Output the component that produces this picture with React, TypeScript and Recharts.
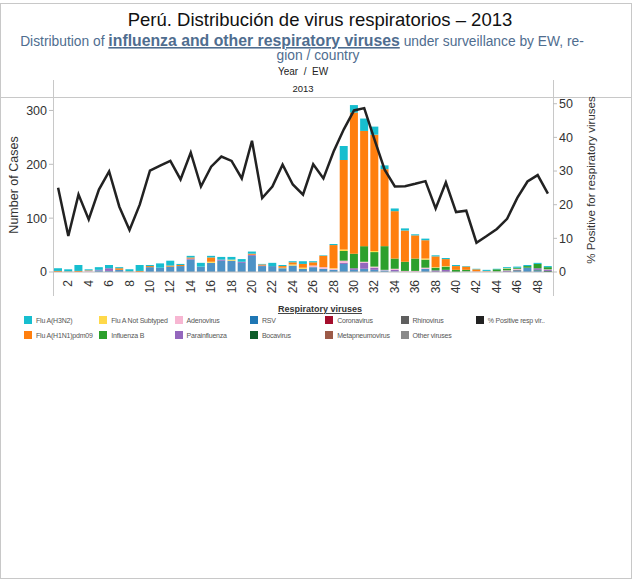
import React from 'react';
import { ComposedChart, Bar, Line, XAxis, YAxis } from 'recharts';

const weeks = [
  1, 2, 3, 4, 5, 6, 7, 8, 9, 10, 11, 12, 13, 14, 15, 16, 17, 18, 19, 20, 21, 22, 23, 24, 25,
  26, 27, 28, 29, 30, 31, 32, 33, 34, 35, 36, 37, 38, 39, 40, 41, 42, 43, 44, 45, 46, 47, 48, 49,
];
const evenWeekTicks = [2, 4, 6, 8, 10, 12, 14, 16, 18, 20, 22, 24, 26, 28, 30, 32, 34, 36, 38, 40, 42, 44, 46, 48];

const rsv = [0, 0, 0, 0, 3, 2, 4, 0, 0, 9, 8, 10, 11, 23, 10, 17, 21, 21, 17, 30, 11, 11, 7, 12, 6, 9, 6, 4, 15, 4, 6, 4, 3, 1, 0, 0, 6, 0, 0, 0, 0, 0, 0, 0, 0, 2, 8, 3, 0];
const parainfluenza = [0, 0, 0, 0, 1, 5, 0, 0, 0, 0, 0, 0, 0, 2, 0, 0, 2, 0, 2, 2, 1, 0, 0, 0, 0, 0, 0, 0, 2, 3, 11, 4, 0, 3, 0, 0, 0, 3, 4, 0, 0, 0, 0, 0, 2, 1, 0, 3, 2];
const adenovirus = [0, 0, 0, 2, 0, 0, 0, 0, 0, 0, 0, 0, 0, 0, 0, 0, 0, 0, 0, 0, 0, 0, 0, 0, 0, 3, 3, 2, 4, 0, 2, 2, 1, 2, 2, 2, 2, 0, 0, 0, 1, 1, 1, 1, 1, 2, 0, 0, 1];
const influenzaB = [0, 0, 0, 0, 0, 0, 0, 0, 0, 0, 0, 0, 0, 0, 0, 0, 0, 0, 0, 0, 0, 0, 0, 0, 0, 0, 0, 0, 18, 27, 29, 27, 44, 19, 17, 23, 15, 5, 6, 4, 3, 0, 0, 4, 3, 2, 3, 8, 4];
const fluANotSubtyped = [0, 0, 0, 0, 0, 0, 0, 0, 0, 0, 0, 0, 0, 0, 0, 2, 0, 2, 0, 0, 0, 0, 1, 2, 2, 0, 0, 1, 3, 0, 0, 2, 0, 0, 0, 0, 2, 1, 1, 0, 0, 0, 0, 0, 1, 0, 0, 0, 0];
const fluAH1N1 = [2, 1, 2, 1, 0, 0, 3, 1, 2, 2, 0, 2, 2, 2, 0, 8, 0, 0, 0, 2, 2, 0, 3, 4, 7, 6, 21, 43, 166, 262, 214, 216, 143, 88, 58, 43, 34, 20, 13, 7, 6, 4, 1, 0, 0, 0, 0, 0, 0];
const fluAH3N2 = [5, 4, 11, 2, 5, 6, 2, 4, 11, 2, 8, 9, 2, 3, 7, 3, 5, 5, 5, 4, 1, 6, 2, 2, 5, 2, 1, 2, 26, 14, 23, 15, 7, 5, 4, 2, 3, 2, 2, 2, 1, 1, 2, 1, 2, 2, 2, 2, 2];
const bocavirus = [0, 0, 0, 0, 0, 0, 0, 0, 0, 0, 0, 0, 0, 0, 0, 0, 0, 0, 0, 0, 0, 0, 0, 0, 0, 0, 0, 0, 0, 0, 0, 0, 0, 0, 0, 0, 0, 0, 0, 0, 0, 0, 0, 0, 0, 1, 0, 1, 2];
const coronavirus = [0, 0, 0, 0, 0, 0, 0, 0, 0, 0, 0, 0, 0, 0, 0, 0, 0, 0, 0, 0, 0, 0, 0, 0, 0, 0, 0, 0, 0, 0, 0, 0, 0, 0, 0, 0, 0, 0, 0, 0, 0, 0, 0, 0, 0, 0, 0, 0, 0];
const metapneumovirus = [0, 0, 0, 0, 0, 0, 0, 0, 0, 0, 0, 0, 0, 0, 0, 0, 0, 0, 0, 0, 0, 0, 0, 0, 0, 0, 0, 0, 0, 0, 0, 0, 0, 0, 0, 0, 0, 0, 0, 0, 0, 0, 0, 0, 0, 0, 0, 0, 0];
const rhinovirus = [0, 0, 0, 0, 0, 0, 0, 0, 0, 0, 0, 0, 0, 0, 0, 0, 0, 0, 0, 0, 0, 0, 0, 0, 0, 0, 0, 0, 0, 0, 0, 0, 0, 0, 0, 0, 0, 0, 0, 0, 0, 0, 0, 0, 0, 0, 0, 0, 0];
const otherViruses = [0, 0, 0, 0, 0, 0, 0, 0, 0, 0, 0, 0, 0, 0, 0, 0, 0, 0, 0, 0, 0, 0, 0, 0, 0, 0, 0, 0, 0, 0, 0, 0, 0, 0, 0, 0, 0, 0, 0, 0, 0, 0, 0, 0, 0, 0, 0, 0, 0];
const pctPositive = [
  25, 10.7, 23, 15.6, 24.5, 29.9, 19.4, 12.5, 20, 30.1, 31.6, 33, 27.5, 35.5, 25.4, 31.3, 34.3, 33, 27.8, 39,
  22, 25.4, 31.9, 26, 23, 32, 27.8, 35.8, 42.4, 48, 48.7, 39.4, 30.4, 25.4, 25.5, 26.2, 27, 18.9, 26.6, 17.8,
  18.2, 8.7, 10.7, 12.8, 15.8, 22, 26.9, 28.8, 23.3,
];

const casesTicks = [0, 100, 200, 300];
const pctTicks = [0, 10, 20, 30, 40, 50];

// stacking order, bottom to top
const series = [
  { key: 'rsv', name: 'RSV', values: rsv, color: '#4e92c6' },
  { key: 'bocavirus', name: 'Bocavirus', values: bocavirus, color: '#0e5e2a' },
  { key: 'coronavirus', name: 'Coronavirus', values: coronavirus, color: '#a50f2d' },
  { key: 'metapneumovirus', name: 'Metapneumovirus', values: metapneumovirus, color: '#9c5a48' },
  { key: 'rhinovirus', name: 'Rhinovirus', values: rhinovirus, color: '#5f5f5f' },
  { key: 'otherViruses', name: 'Other viruses', values: otherViruses, color: '#8a8a8a' },
  { key: 'parainfluenza', name: 'Parainfluenza', values: parainfluenza, color: '#9467bd' },
  { key: 'adenovirus', name: 'Adenovirus', values: adenovirus, color: '#f7b6d2' },
  { key: 'influenzaB', name: 'Influenza B', values: influenzaB, color: '#2ca02c' },
  { key: 'fluANotSubtyped', name: 'Flu A Not Subtyped', values: fluANotSubtyped, color: '#ffd94a' },
  { key: 'fluAH1N1', name: 'Flu A(H1N1)pdm09', values: fluAH1N1, color: '#ff7f0e' },
  { key: 'fluAH3N2', name: 'Flu A(H3N2)', values: fluAH3N2, color: '#17becf' },
];

const legendRows = [
  [
    ['Flu A(H3N2)', '#17becf'],
    ['Flu A Not Subtyped', '#ffd94a'],
    ['Adenovirus', '#f7b6d2'],
    ['RSV', '#1f77b4'],
    ['Coronavirus', '#a50f2d'],
    ['Rhinovirus', '#5f5f5f'],
    ['% Positive resp vir..', '#222222'],
  ],
  [
    ['Flu A(H1N1)pdm09', '#ff7f0e'],
    ['Influenza B', '#2ca02c'],
    ['Parainfluenza', '#9467bd'],
    ['Bocavirus', '#0e5e2a'],
    ['Metapneumovirus', '#9c5a48'],
    ['Other viruses', '#8a8a8a'],
  ],
];

const data = weeks.map((week, i) => {
  const row: Record<string, number> = { week, pct: pctPositive[i] };
  series.forEach((s) => {
    row[s.key] = s.values[i];
  });
  return row;
});

const font = 'Arial, "Liberation Sans", sans-serif';

const WeekTick = (props: any) => {
  const { x, y, payload } = props;
  if (!evenWeekTicks.includes(payload.value)) return null;
  return (
    <text
      x={x}
      y={y}
      transform={`rotate(-90 ${x} ${y})`}
      textAnchor="end"
      dominantBaseline="central"
      fontSize={12}
      fontFamily={font}
      fill="#333"
    >
      {payload.value}
    </text>
  );
};

const App: React.FC = () => {
  return (
    <div style={{ position: 'absolute', left: 0, top: 0, width: 642, height: 584, background: '#fff', fontFamily: font }}>
      <svg width={642} height={584} style={{ position: 'absolute', left: 0, top: 0 }}>
        <rect x={0.5} y={3.5} width={631} height={575} fill="none" stroke="#c8c8c8" />
        <line x1={0} x2={632} y1={97.5} y2={97.5} stroke="#c8c8c8" />
        <line x1={53.5} x2={53.5} y1={80} y2={296} stroke="#c8c8c8" />
        <line x1={553.5} x2={553.5} y1={80} y2={296} stroke="#c8c8c8" />
        <text x={320} y={26} textAnchor="middle" fontSize={18.5} fill="#111">
          Perú. Distribución de virus respiratorios – 2013
        </text>
        <text x={302} y={46} textAnchor="middle" fontSize={13.8} fill="#4f6d8f">
          Distribution of{' '}
          <tspan fontWeight="bold" fontSize={15.8} textDecoration="underline">
            influenza and other respiratory viruses
          </tspan>{' '}
          under surveillance by EW, re-
        </text>
        <text x={318} y={60} textAnchor="middle" fontSize={13.8} fill="#4f6d8f">
          gion / country
        </text>
        <text x={303} y={75} textAnchor="middle" fontSize={10} fill="#222" style={{ whiteSpace: 'pre' }}>
          Year  /  EW
        </text>
        <text x={303} y={92} textAnchor="middle" fontSize={9.5} fill="#222">
          2013
        </text>
        <text x={18} y={185} transform="rotate(-90 18 185)" textAnchor="middle" fontSize={12.5} fill="#333">
          Number of Cases
        </text>
        <text x={595} y={180} transform="rotate(-90 595 180)" textAnchor="middle" fontSize={11.5} fill="#333">
          % Positive for respiratory viruses
        </text>
        <text x={320} y={312} textAnchor="middle" fontSize={9} fontWeight="bold" fill="#333" textDecoration="underline">
          Respiratory viruses
        </text>
      </svg>
      <div style={{ position: 'absolute', left: 0, top: 0 }}>
        <ComposedChart
          width={642}
          height={300}
          data={data}
          margin={{ top: 97, right: 0, left: 0, bottom: 0 }}
          barCategoryGap={1}
        >
          <XAxis
            dataKey="week"
            interval={0}
            tick={<WeekTick />}
            tickLine={false}
            axisLine={{ stroke: '#bdbdbd' }}
            height={28}
            tickMargin={2}
          />
          <YAxis
            yAxisId="cases"
            orientation="left"
            width={53}
            domain={[0, 325]}
            ticks={casesTicks}
            axisLine={false}
            tickSize={4}
            tickLine={{ stroke: '#bdbdbd' }}
            tick={{ fontSize: 12.5, fill: '#333', fontFamily: font }}
          />
          <YAxis
            yAxisId="pct"
            orientation="right"
            width={89}
            domain={[0, 52]}
            ticks={pctTicks}
            axisLine={false}
            tickSize={4}
            tickLine={{ stroke: '#bdbdbd' }}
            tick={{ fontSize: 12.5, fill: '#333', fontFamily: font }}
          />
          {series.map((s) => (
            <Bar
              key={s.key}
              dataKey={s.key}
              name={s.name}
              stackId="v"
              yAxisId="cases"
              fill={s.color}
              barSize={8}
              isAnimationActive={false}
            />
          ))}
          <Line
            dataKey="pct"
            yAxisId="pct"
            type="linear"
            stroke="#222"
            strokeWidth={2.5}
            dot={false}
            isAnimationActive={false}
          />
        </ComposedChart>
      </div>
      {legendRows.map((row, r) => (
        <div key={r}>
          {row.map(([label, color], c) => (
            <div
              key={label}
              style={{
                position: 'absolute',
                left: 24 + c * 75.3,
                top: 316 + r * 15,
                display: 'flex',
                alignItems: 'center',
                fontSize: 7,
                letterSpacing: -0.2,
                color: '#555',
                whiteSpace: 'nowrap',
              }}
            >
              <span style={{ display: 'inline-block', width: 8, height: 8, background: color, marginRight: 4 }} />
              {label}
            </div>
          ))}
        </div>
      ))}
    </div>
  );
};

export default App;
